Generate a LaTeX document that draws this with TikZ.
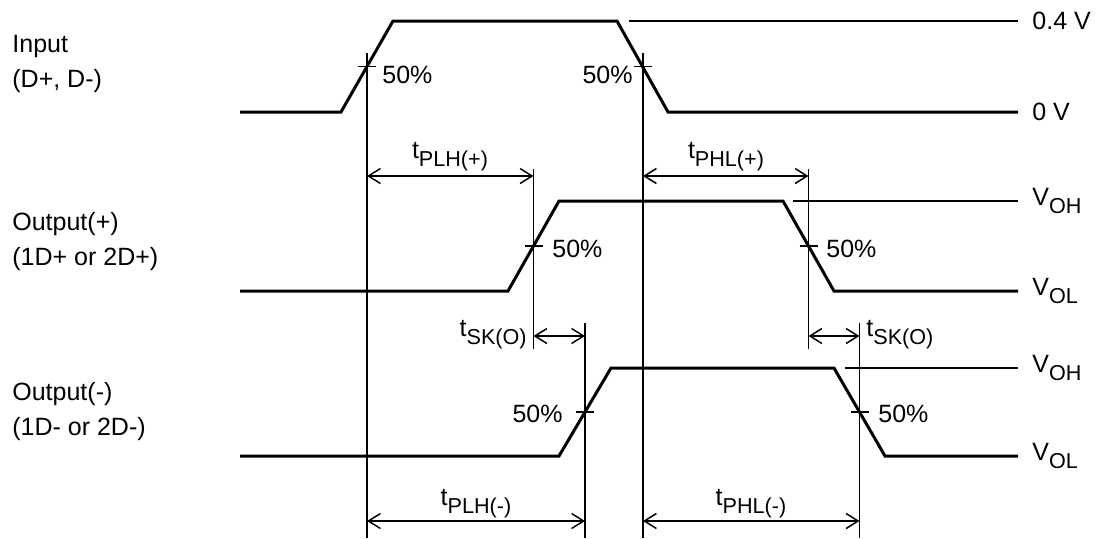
\documentclass[tikz,border=0pt]{standalone}
\usepackage{fontspec}
\setmainfont{Liberation Sans}
\usetikzlibrary{arrows.meta}
\newcommand\tsubx[1]{\raisebox{-0.32em}{\fontsize{10.8}{12}\selectfont #1}}
\begin{document}
\begin{tikzpicture}[x=0.5pt,y=-0.5pt,
  wave/.style={line width=1.5pt, line join=miter},
  thinln/.style={line width=0.75pt},
  dimarrow/.style={thinln, {Straight Barb[length=6pt,width=7.5pt]}-{Straight Barb[length=6pt,width=7.5pt]}},
  lbl/.style={inner sep=0pt, font=\fontsize{12.5}{15}\selectfont},
]
\useasboundingbox (0,0) rectangle (1100,538);

% ---------- key points (50% crossings) ----------
\coordinate (inR) at (367,66.5);
\coordinate (inF) at (643,66.5);
\coordinate (opR) at (533.5,246);
\coordinate (opF) at (808.5,246);
\coordinate (omR) at (585,412);
\coordinate (omF) at (859.5,412);

% ---------- waveforms ----------
\draw[wave] (240,112) -- (341,112) -- (393,21) -- (617,21) -- (668,112) -- (1018,112);
\draw[wave] (240,291) -- (508,291) -- (559,201) -- (783,201) -- (834,291) -- (1018,291);
\draw[wave] (240,456) -- (559,456) -- (611,368) -- (834,368) -- (885,456) -- (1018,456);

% reference level lines
\draw[thinln] (629,21) -- (1018,21);
\draw[thinln] (793,201) -- (1018,201);
\draw[thinln] (845,368) -- (1018,368);

% ---------- vertical reference lines ----------
\coordinate (v1t) at (367,53);   \coordinate (v1b) at (367,538);
\coordinate (v2t) at (643,53);   \coordinate (v2b) at (643,538);
\coordinate (v3t) at (533.5,169); \coordinate (v3b) at (533.5,349);
\coordinate (v4t) at (808.5,169); \coordinate (v4b) at (808.5,349);
\coordinate (v5t) at (585,323);  \coordinate (v5b) at (585,538);
\coordinate (v6t) at (859.5,323);  \coordinate (v6b) at (859.5,538);
\foreach \a/\b in {v1t/v1b,v2t/v2b,v3t/v3b,v4t/v4b,v5t/v5b,v6t/v6b}
  \draw[thinln] (\a) -- (\b);

% ticks at 50% points
\foreach \p in {inR,inF,opR,opF,omR,omF}
  \draw[thinln] ([xshift=-4.5pt]\p) -- ([xshift=4.5pt]\p);

% ---------- dimension arrows ----------
\coordinate (a1l) at (367,176);  \coordinate (a1r) at (533.5,176);
\coordinate (a2l) at (643,176);  \coordinate (a2r) at (808.5,176);
\coordinate (a3l) at (533.5,336); \coordinate (a3r) at (585,336);
\coordinate (a4l) at (808.5,336); \coordinate (a4r) at (859.5,336);
\coordinate (a5l) at (367,521);  \coordinate (a5r) at (585,521);
\coordinate (a6l) at (643,521);  \coordinate (a6r) at (859.5,521);
\foreach \a/\b in {a1l/a1r,a2l/a2r,a3l/a3r,a4l/a4r,a5l/a5r,a6l/a6r}
  \draw[dimarrow] (\a) -- (\b);

% ---------- labels ----------
\node[lbl, anchor=base] (tplhp) at (450,158) {t\tsubx{PLH(+)}};
\node[lbl, anchor=base] (tphlp) at (726,158) {t\tsubx{PHL(+)}};
\node[lbl, anchor=base east] (tsk1) at (527,336) {t\tsubx{SK(O)}};
\node[lbl, anchor=base west] (tsk2) at (866,336) {t\tsubx{SK(O)}};
\node[lbl, anchor=base] (tplhm) at (476,505) {t\tsubx{PLH(-)}};
\node[lbl, anchor=base] (tphlm) at (751,505) {t\tsubx{PHL(-)}};

\node[lbl, anchor=base west] (p1) at (382,83) {50\%};
\node[lbl, anchor=base east] (p2) at (633,83) {50\%};
\node[lbl, anchor=base west] (p3) at (552,257) {50\%};
\node[lbl, anchor=base west] (p4) at (826,257) {50\%};
\node[lbl, anchor=base east] (p5) at (563,422) {50\%};
\node[lbl, anchor=base west] (p6) at (878,422) {50\%};

\node[lbl, anchor=west] (l04) at (1032,21) {0.4 V};
\node[lbl, anchor=west] (l0) at (1032,112) {0 V};
\node[lbl, anchor=west] (voh1) at (1032,201) {V\tsubx{OH}};
\node[lbl, anchor=west] (vol1) at (1032,291) {V\tsubx{OL}};
\node[lbl, anchor=west] (voh2) at (1032,368) {V\tsubx{OH}};
\node[lbl, anchor=west] (vol2) at (1032,456) {V\tsubx{OL}};

\node[lbl, anchor=base west] (in1) at (12,52) {Input};
\node[lbl, anchor=base west] (in2) at (12,87) {(D+, D-)};
\node[lbl, anchor=base west] (op1) at (12,230) {Output(+)};
\node[lbl, anchor=base west] (op2) at (12,265) {(1D+ or 2D+)};
\node[lbl, anchor=base west] (om1) at (12,400) {Output(-)};
\node[lbl, anchor=base west] (om2) at (12,435) {(1D- or 2D-)};
\end{tikzpicture}
\end{document}
